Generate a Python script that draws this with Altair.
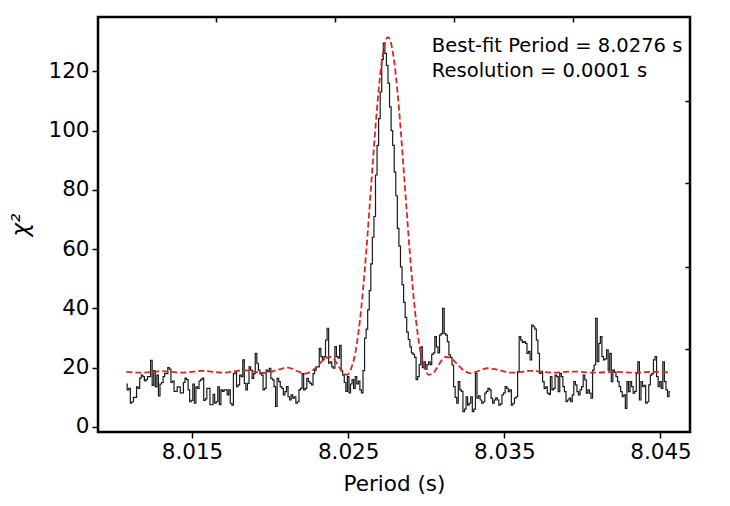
import altair as alt
import pandas as pd

# ---- data ----
period_start = 8.0108   # first trial period (s)
period_step = 0.0001    # resolution (s)

chi2 = [
    14.5, 12.5, 13, 8, 8.5, 10, 10, 13.5, 13, 16.5,
    17.5, 17, 15.5, 16, 17, 17, 22.5, 14, 19, 13.5,
    17.5, 10.5, 14.5, 15, 17, 18, 18, 20, 19.5, 15,
    15.5, 12, 12, 13.5, 13.5, 11.5, 11.5, 15, 16.5, 16,
    12.5, 8.5, 9, 14.5, 8, 13.5, 13, 15.5, 16, 16.5,
    9, 9.5, 13, 13, 7.5, 7.5, 11, 8, 8.5, 13.5,
    7.5, 12.5, 12, 12.5,
    12.5, 10.8, 12.5, 8, 7.4, 18, 18.7, 13.6, 14.2, 17.5,
    17, 22.6, 14.7, 12.5, 14.7, 20.3, 19.2, 16.4, 18, 24.8,
    21.5, 19.2, 18, 17.5, 12.5, 13, 19.2, 18.7, 19.8, 16.4,
    15.9, 13.6, 6.9, 16.4, 15.3, 13.6, 13, 10.8, 11.9, 13.6,
    10.2, 9.1, 10.8, 9.7, 10.2, 8, 8.5, 12.5, 13, 18,
    12.5, 13, 16.4, 15.3, 14.7, 14.2, 18, 19.2, 20.3, 20.3,
    26.5, 23.7, 22.6, 23.7, 29.3, 33.3, 21.5, 22, 20.3, 19.8,
    27.1, 23.7, 23.2, 27.5, 19, 17.5,
    15, 12, 17, 11.5, 14.5, 16, 13, 17, 14.5, 15.5,
    12.5, 11.5, 19, 30, 33, 39.5, 46, 55, 64, 71,
    85, 95, 104, 113, 124, 129.5, 126, 122, 116, 108,
    100, 95, 86, 78, 67, 61, 54, 48, 42, 37,
    32, 29.5, 27, 25, 24.5, 23.5, 16, 17,
    21, 27, 20, 22, 19.5, 21, 22, 21, 24.5, 25,
    30.5, 27, 25, 31, 31.5, 40, 31.5, 31, 28.8,
    24.3, 23.5, 20.9, 13.6, 10, 8, 15.3, 12.5, 12, 5.2,
    6, 10.2, 7.4, 8, 10.2, 5.2, 6, 18.1, 9.7, 10.5,
    9.1, 8, 8.5, 11.4, 12, 13, 12.5, 9.7, 8, 9.1,
    9.8, 9.1, 7.4, 7.8, 10.8, 11.5, 13.6, 13, 11.9, 12.5,
    7.4, 8, 9.7, 10.2, 18.7, 30.5, 29.3, 28.5, 28.8, 28.2,
    24.8, 25.5, 22.6, 34.4, 33.8, 33, 29.3, 24.8, 18.1, 18.8,
    15.3, 13, 13.5, 11.4, 11, 17, 12.5, 13, 17.5, 17,
    11.9,
    18.1, 17, 13.6, 11.9, 8.5, 9.1, 9.7, 8.5, 10.8, 15.3,
    14.2, 11.9, 10.8, 12.5, 13.6, 17.5, 15.9, 11.4, 12.5, 11.4,
    9.7, 19.2, 20.9, 36.6, 22, 28.2, 30.5, 23.7, 22.6, 23,
    26, 19.2, 24.8, 15.3, 19.2, 18.5, 17, 15.3, 13.6, 11.9,
    10.2, 10.8, 6.3, 15.3, 11.9, 15.3, 13.6, 11.4, 12, 18.1,
    22, 9.1, 15.3, 13.6, 14, 8, 8.5, 14.2, 17.5, 18, 22.6,
    23.7, 17, 13.6, 15.3, 13, 22, 15.3, 12.5, 10.2, 11.9,
]
periods = [round(period_start + period_step * i, 5) for i in range(len(chi2))]

# red dashed model curve, read at selected periods
red_period = [
    8.0108, 8.01175, 8.01305, 8.01435, 8.01565, 8.0170, 8.01835, 8.01965,
    8.02055, 8.02115, 8.02175, 8.02225, 8.02275, 8.02315, 8.02355, 8.02385,
    8.02415, 8.02445, 8.02475, 8.02495, 8.02515, 8.02535, 8.02555, 8.02575,
    8.02595, 8.02615, 8.02635, 8.02655, 8.02675, 8.02695, 8.02715, 8.02735,
    8.02755,
    8.02775, 8.02795, 8.02815, 8.02835, 8.02855, 8.02875, 8.02895, 8.02915,
    8.02935, 8.02955, 8.02975, 8.02995, 8.03015, 8.03035, 8.03065, 8.03095,
    8.03125, 8.03155, 8.03195, 8.03235, 8.03285, 8.03335, 8.03395, 8.03455,
    8.03545, 8.03675, 8.0381, 8.03945, 8.04075, 8.04205, 8.04335, 8.04465,
    8.0456,
]
red_chi2 = [
    18.6, 18.3, 18.8, 18.3, 18.9, 18.3, 19.1, 18.2,
    19.4, 20.0, 18.8, 18.0, 19.2, 21.2, 23.2, 23.6,
    22.4, 20.0, 18.0, 17.6, 19.2, 22.4, 27.8, 35.8,
    46.2, 58.7, 72.7, 87.2, 101.2, 113.5, 123.2, 129.4,
    131.5,
    129.4, 123.2, 113.5, 101.2, 87.2, 72.7, 58.7, 46.2,
    35.8, 27.8, 22.4, 19.2, 17.6, 17.8, 19.6, 22.2,
    23.6, 23.3, 21.4, 19.3, 18.1, 18.9, 19.8, 19.3,
    18.3, 18.9, 18.3, 18.7, 18.3, 18.6, 18.3, 18.6,
    18.4,
]

x_ticks = [8.015, 8.025, 8.035, 8.045]
y_ticks = [0, 20, 40, 60, 80, 100, 120]
top_ticks = [8.01655, 8.02417, 8.03179, 8.0394]
right_ticks = [26.3, 54.0, 82.3, 110.0]

notes = ["Best-fit Period = 8.0276 s", "Resolution = 0.0001 s"]
note_x = [8.03036, 8.03036]
note_y = [126.6, 118.1]

x_domain = [8.00898, 8.04689]
y_domain = [-1.7, 138.3]

FONT = "DejaVu Sans"

obs = pd.DataFrame({"period": periods, "chi2": chi2})
model = pd.DataFrame({"period": red_period, "chi2": red_chi2})
ann = pd.DataFrame({"period": note_x, "chi2": note_y, "label": notes})

xs = alt.Scale(domain=x_domain, nice=False, zero=False)
ys = alt.Scale(domain=y_domain, nice=False, zero=False)

axis_common = dict(
    labelFont=FONT, labelFontSize=21.5, labelColor="black",
    titleFont=FONT, titleColor="black", titleFontWeight="normal",
    tickColor="black", tickWidth=1.5, tickSize=6, domain=False, grid=False,
    labelFlush=False, labelPadding=3,
)

black = alt.Chart(obs).mark_line(
    interpolate="step", color="#1a1a1a", strokeWidth=1.2
).encode(
    x=alt.X("period:Q", scale=xs,
            axis=alt.Axis(values=x_ticks, format=".3f", title="Period (s)",
                          titleFontSize=21.5, titlePadding=11, **axis_common)),
    y=alt.Y("chi2:Q", scale=ys,
            axis=alt.Axis(values=y_ticks, title="χ²", titleFontSize=23,
                          titleFontStyle="italic", titlePadding=15, **axis_common)),
)

minor_axis = dict(labels=False, title="", tickColor="black", tickWidth=1.5,
                  tickSize=5, offset=-5, domain=False, grid=False)

red = alt.Chart(model).mark_line(
    interpolate="monotone", color="#d62728", strokeWidth=1.8, strokeDash=[6, 3]
).encode(
    x=alt.X("period:Q", scale=xs,
            axis=alt.Axis(orient="top", values=top_ticks, **minor_axis)),
    y=alt.Y("chi2:Q", scale=ys,
            axis=alt.Axis(orient="right", values=right_ticks, **minor_axis)),
)

text = alt.Chart(ann).mark_text(
    align="left", baseline="alphabetic", font=FONT, fontSize=19.5, color="black"
).encode(
    x=alt.X("period:Q", scale=xs, axis=None),
    y=alt.Y("chi2:Q", scale=ys, axis=None),
    text="label:N",
)

chart = alt.layer(black, red, text).resolve_axis(
    x="independent", y="independent"
).properties(
    width=592, height=415,
    autosize=alt.AutoSizeParams(type="none"),
    padding={"left": 90, "top": 9, "right": 30, "bottom": 70},
    background="white",
).configure_view(
    stroke="black", strokeWidth=2.5
)

chart.save("out.html", embed_options={"renderer": "svg", "actions": False})
